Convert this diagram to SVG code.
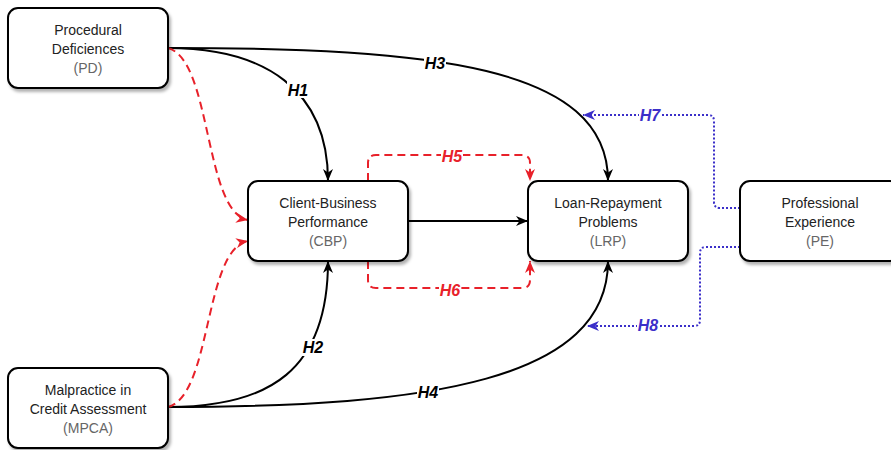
<svg xmlns="http://www.w3.org/2000/svg" width="891" height="450" viewBox="0 0 891 450">
<style>
.box{fill:#fff;stroke:#000;stroke-width:2;filter:url(#sh)}
.t{font-family:"Liberation Sans",Arial,sans-serif;font-size:14px;fill:#222;text-anchor:middle}
.a{fill:#666}
.c{fill:none;stroke-width:2}
.k{stroke:#000;marker-end:url(#mk)}
.r{stroke:#e8212a;stroke-dasharray:8 5;marker-end:url(#mr)}
.b{stroke:#3b2fc9;stroke-dasharray:2 2;marker-end:url(#mb)}
.l{font-family:"Liberation Sans",Arial,sans-serif;font-size:16px;font-style:italic;font-weight:bold;text-anchor:middle}
.bg{fill:#fff}
</style>
<defs>
<filter id="sh" x="-10%" y="-10%" width="130%" height="140%">
<feDropShadow dx="2" dy="3" stdDeviation="1.5" flood-color="#000" flood-opacity="0.3"/>
</filter>
<marker id="mk" viewBox="0 0 12 10" refX="12" refY="5" markerWidth="12" markerHeight="10" markerUnits="userSpaceOnUse" orient="auto"><path d="M0,0 L12,5 L0,10 L3.5,5 z" fill="#000"/></marker>
<marker id="mr" viewBox="0 0 12 10" refX="12" refY="5" markerWidth="12" markerHeight="10" markerUnits="userSpaceOnUse" orient="auto"><path d="M0,0 L12,5 L0,10 L3.5,5 z" fill="#e8212a"/></marker>
<marker id="mb" viewBox="0 0 12 10" refX="12" refY="5" markerWidth="12" markerHeight="10" markerUnits="userSpaceOnUse" orient="auto"><path d="M0,0 L12,5 L0,10 L3.5,5 z" fill="#3b2fc9"/></marker>
</defs>
<g id="connectors">
<path class="c k" d="M168,48 C265,48 328,90 328,181"/>
<path class="c k" d="M168,48 C430,48 608,65 608,181"/>
<path class="c k" d="M168,407 C270,407 328,370 328,261"/>
<path class="c k" d="M168,407 C430,407 608,380 608,261"/>
<path class="c k" d="M408,221 H528"/>
<path class="c r" d="M168,48 C212,60 204,212 248,220"/>
<path class="c r" d="M168,407 C212,395 204,249 248,241"/>
<path class="c r" d="M368,181 V163 Q368,155 376,155 H522 Q530,155 530,163 V181"/>
<path class="c r" d="M368,261 V280 Q368,288 376,288 H522 Q530,288 530,280 V261"/>
<path class="c b" d="M740,208 H720 Q714,208 714,202 V121 Q714,115 708,115 H583"/>
<path class="c b" d="M740,247 H706 Q700,247 700,253 V320 Q700,326 694,326 H587"/>
<rect class="bg" x="287" y="81" width="22" height="17"/>
<text class="l" x="298" y="96">H1</text>
<rect class="bg" x="424" y="55" width="22" height="16"/>
<text class="l" x="435" y="69">H3</text>
<rect class="bg" x="302" y="339" width="22" height="17"/>
<text class="l" x="313" y="353">H2</text>
<rect class="bg" x="417" y="384" width="22" height="16"/>
<text class="l" x="428" y="398">H4</text>
<rect class="bg" x="441" y="148" width="22" height="15"/>
<text class="l" x="452" y="162" fill="#e8212a">H5</text>
<rect class="bg" x="439" y="282" width="22" height="15"/>
<text class="l" x="450" y="296" fill="#e8212a">H6</text>
<rect class="bg" x="639" y="108" width="22" height="15"/>
<text class="l" x="650" y="121" fill="#3b2fc9">H7</text>
<rect class="bg" x="637" y="318" width="22" height="15"/>
<text class="l" x="648" y="331" fill="#3b2fc9">H8</text>
</g>
<g id="PD">
<rect class="box" x="8" y="8" width="160" height="80" rx="10"/>
<text class="t" x="88" y="35">Procedural</text>
<text class="t" x="88" y="54">Deficiences</text>
<text class="t a" x="88" y="73">(PD)</text>
</g>
<g id="CBP">
<rect class="box" x="248" y="181" width="160" height="80" rx="10"/>
<text class="t" x="328" y="208">Client-Business</text>
<text class="t" x="328" y="227">Performance</text>
<text class="t a" x="328" y="246">(CBP)</text>
</g>
<g id="LRP">
<rect class="box" x="528" y="181" width="160" height="80" rx="10"/>
<text class="t" x="608" y="208">Loan-Repayment</text>
<text class="t" x="608" y="227">Problems</text>
<text class="t a" x="608" y="246">(LRP)</text>
</g>
<g id="PE">
<rect class="box" x="740" y="181" width="160" height="80" rx="10"/>
<text class="t" x="820" y="208">Professional</text>
<text class="t" x="820" y="227">Experience</text>
<text class="t a" x="820" y="246">(PE)</text>
</g>
<g id="MPCA">
<rect class="box" x="8" y="368" width="160" height="80" rx="10"/>
<text class="t" x="88" y="395">Malpractice in</text>
<text class="t" x="88" y="414">Credit Assessment</text>
<text class="t a" x="88" y="433">(MPCA)</text>
</g>
</svg>
